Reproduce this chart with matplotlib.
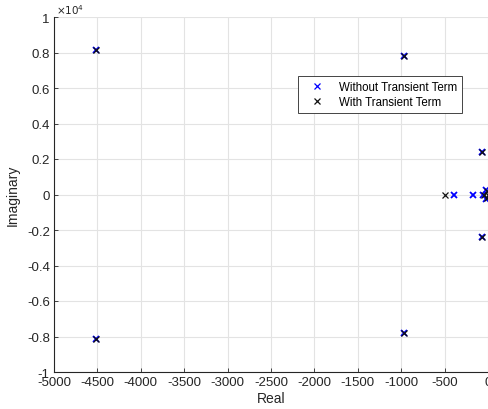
import matplotlib
matplotlib.use("Agg")
import matplotlib.pyplot as plt
from matplotlib.ticker import FuncFormatter

plt.rcParams['font.family'] = ['Liberation Sans', 'DejaVu Sans']
plt.rcParams['axes.unicode_minus'] = False

# Poles without transient term
wo_real = [-4520, -4520, -970, -970, -65, -65, -390, -170, -60, -20, -20]
wo_imag = [8150, -8150, 7800, -7800, 2400, -2400, 0, 0, 0, 250, -250]
# Poles with transient term
w_real = [-4520, -4520, -970, -970, -70, -70, -500, -50, -15, -15, -5]
w_imag = [8150, -8150, 7800, -7800, 2400, -2400, 0, 0, 200, -200, 0]

xticks = [-5000, -4500, -4000, -3500, -3000, -2500, -2000, -1500, -1000, -500, 0]
yticks = [-10000, -8000, -6000, -4000, -2000, 0, 2000, 4000, 6000, 8000, 10000]

fig = plt.figure(figsize=(4.88, 4.10), dpi=100)
ax = fig.add_axes([54/488, 1-373/410, 1-54/488, (373-18)/410])

l1, = ax.plot(wo_real, wo_imag, 'x', color=(0, 0, 1), markersize=5, mew=1.3,
              label='Without Transient Term', zorder=3)
l2, = ax.plot(w_real, w_imag, 'x', color='#111111', markersize=5, mew=0.9,
              label='With Transient Term', zorder=4)

ax.set_xlim(-5000, 0)
ax.set_ylim(-10000, 10000)
ax.set_xticks(xticks)
ax.set_yticks(yticks)
ax.yaxis.set_major_formatter(FuncFormatter(lambda v, p: '%g' % (v / 1e4)))
ax.grid(True, color='#e3e3e3', linewidth=0.8)
ax.set_axisbelow(True)

for s in ['top', 'right']:
    ax.spines[s].set_visible(False)
for s in ['left', 'bottom']:
    ax.spines[s].set_color('#262626')
    ax.spines[s].set_linewidth(0.8)
ax.tick_params(direction='in', length=3, width=0.6, colors='#262626',
               labelsize=9.5, pad=3)

ax.set_xlabel('Real', fontsize=10, color='#262626', labelpad=2)
ax.set_ylabel('Imaginary', fontsize=10, color='#262626', labelpad=5)

ax.text(0.005, 1.003, r'$\times10^{4}$', transform=ax.transAxes, fontsize=7.5,
        color='#262626', ha='left', va='bottom')

leg = ax.legend([l1, l2], ['Without Transient Term', 'With Transient Term'],
                loc='upper right', bbox_to_anchor=(0.94, 0.834), fontsize=8.3,
                frameon=True, fancybox=False, framealpha=1, edgecolor='#262626',
                borderpad=0.4, handlelength=2.6, handletextpad=0.6, labelspacing=0.3,
                borderaxespad=0)
leg.get_frame().set_linewidth(0.6)
leg.legend_handles[0].set_markeredgewidth(0.9)

fig.savefig('out.png', dpi=100)
